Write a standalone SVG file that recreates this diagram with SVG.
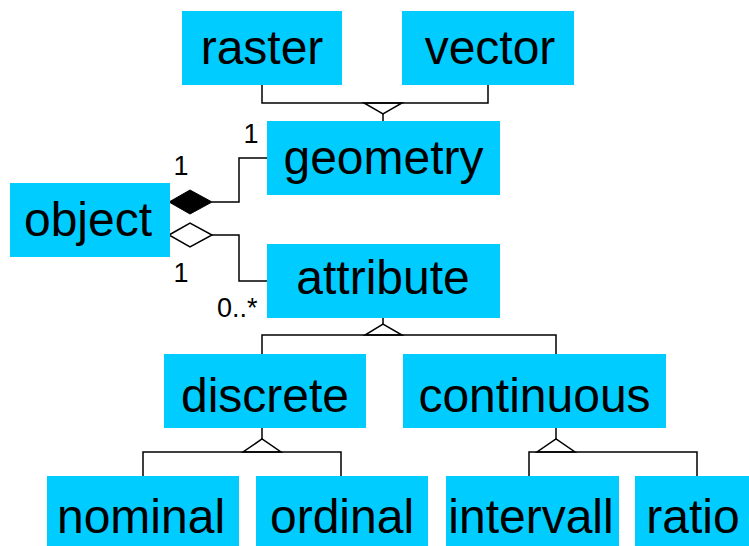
<svg xmlns="http://www.w3.org/2000/svg" width="749" height="546" viewBox="0 0 749 546">
<style>
.box{fill:#00CCFF}
.t{font-family:"Liberation Sans",Arial,sans-serif;font-size:48px;fill:#000;text-anchor:middle}
.l{font-family:"Liberation Sans",Arial,sans-serif;font-size:27px;fill:#000}
.c{fill:none;stroke:#000;stroke-width:1.5}
</style>
<rect width="749" height="546" fill="#fff"/>
<g id="connectors">
<polyline class="c" points="262,85 262,103 488,103 488,85"/>
<polygon class="c" points="364,103 402,103 383,114" fill="#fff"/>
<line class="c" x1="383" y1="114" x2="383" y2="121"/>
<polyline class="c" points="212,202 239,202 239,158 267,158"/>
<polygon points="169,202 190,190 212,202 190,214" fill="#000" stroke="#000" stroke-width="1"/>
<polyline class="c" points="212,235 239,235 239,281 267,281"/>
<polygon points="169,235 190,223 212,235 190,247" fill="#fff" stroke="#000" stroke-width="1.5"/>
<line class="c" x1="383" y1="318" x2="383" y2="324"/>
<polyline class="c" points="262,354 262,335 556,335 556,354"/>
<polygon class="c" points="365,335 402,335 383,324" fill="#fff"/>
<line class="c" x1="262" y1="428" x2="262" y2="439"/>
<polyline class="c" points="143,476 143,452 341,452 341,476"/>
<polygon class="c" points="243,452 281,452 262,439" fill="#fff"/>
<line class="c" x1="556" y1="428" x2="556" y2="439"/>
<polyline class="c" points="529,476 529,452 697,452 697,476"/>
<polygon class="c" points="537,452 575,452 556,439" fill="#fff"/>
</g>
<g id="labels">
<text class="l" x="251" y="143" text-anchor="middle">1</text>
<text class="l" x="181" y="175" text-anchor="middle">1</text>
<text class="l" x="181" y="282" text-anchor="middle">1</text>
<text class="l" x="217" y="317">0..*</text>
</g>
<g id="raster"><rect class="box" x="182" y="11" width="160" height="74"/><text class="t" x="262" y="64">raster</text></g>
<g id="vector"><rect class="box" x="402" y="11" width="172" height="74"/><text class="t" x="490" y="64">vector</text></g>
<g id="geometry"><rect class="box" x="267" y="121" width="233" height="74"/><text class="t" x="383.5" y="174">geometry</text></g>
<g id="object"><rect class="box" x="10" y="183" width="160" height="74"/><text class="t" x="88" y="236">object</text></g>
<g id="attribute"><rect class="box" x="267" y="244" width="233" height="74"/><text class="t" x="383" y="294">attribute</text></g>
<g id="discrete"><rect class="box" x="164" y="354" width="202" height="74"/><text class="t" x="265" y="412">discrete</text></g>
<g id="continuous"><rect class="box" x="403" y="354" width="263" height="74"/><text class="t" x="534.5" y="412">continuous</text></g>
<g id="nominal"><rect class="box" x="47" y="476" width="192" height="70"/><text class="t" x="141" y="533">nominal</text></g>
<g id="ordinal"><rect class="box" x="256" y="476" width="172" height="70"/><text class="t" x="342" y="533">ordinal</text></g>
<g id="intervall"><rect class="box" x="446" y="476" width="173" height="70"/><text class="t" x="531" y="533">intervall</text></g>
<g id="ratio"><rect class="box" x="635" y="476" width="114" height="70"/><text class="t" x="693" y="533">ratio</text></g>
</svg>
